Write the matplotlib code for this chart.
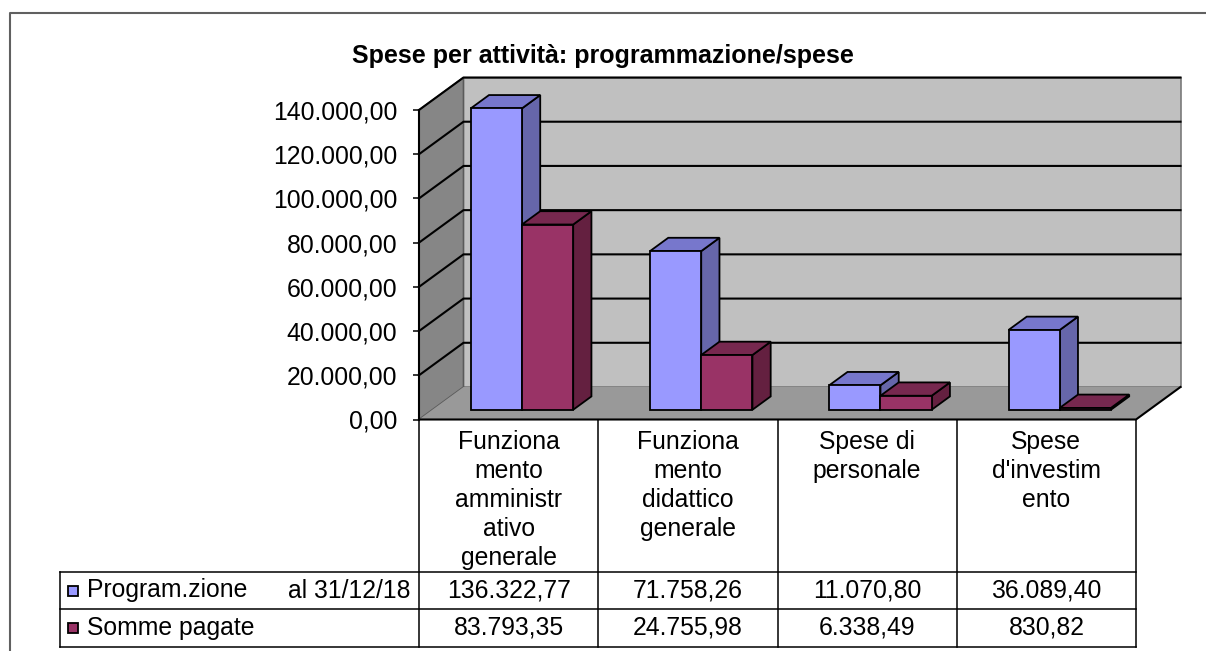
import matplotlib.pyplot as plt
from matplotlib.patches import Polygon, Rectangle
import numpy as np

plt.rcParams['font.family'] = ['Liberation Sans', 'DejaVu Sans']

title = "Spese per attività: programmazione/spese"
categories = [
    ["Funziona", "mento", "amministr", "ativo", "generale"],
    ["Funziona", "mento", "didattico", "generale"],
    ["Spese di", "personale"],
    ["Spese", "d'investim", "ento"],
]
series_names = ["Program.zione", "Somme pagate"]
series_extra = ["al 31/12/18", ""]
programmazione = [136322.77, 71758.26, 11070.80, 36089.40]
pagate = [83793.35, 24755.98, 6338.49, 830.82]
y_ticks = [0, 20000, 40000, 60000, 80000, 100000, 120000, 140000]

front_cols = ["#9999FF", "#993366"]
top_cols = ["#7777CC", "#77284F"]
side_cols = ["#6666AA", "#642040"]


def it_fmt(v):
    s = f"{v:,.2f}"
    return s.replace(",", "X").replace(".", ",").replace("X", ".")


W, H = 1206, 651
fig = plt.figure(figsize=(W / 100, H / 100), dpi=100)

# overlay in pixel coordinates for frame and data table
ov = fig.add_axes([0, 0, 1, 1], zorder=0)
ov.set_xlim(0, W)
ov.set_ylim(H, 0)
ov.axis("off")

# plot area (front plane)
px0, px1, py0, py1 = 419, 1136, 419.5, 110
ax = fig.add_axes([px0 / W, 1 - py0 / H, (px1 - px0) / W, (py0 - py1) / H], zorder=1)
ax.patch.set_visible(False)
n = len(categories)
ymax = y_ticks[-1]
ax.set_xlim(0, n)
ax.set_ylim(0, ymax)

# depth vector of the 3d box, expressed in data units
DDX = 44.5 / ((px1 - px0) / n)
DDY = 32.5 * ymax / (py0 - py1)


def P(x, y, f):
    return (x + f * DDX, y + f * DDY)


def poly(pts, fc, ec, lw=1.0, z=1):
    ax.add_patch(Polygon(pts, closed=True, facecolor=fc, edgecolor=ec,
                         linewidth=lw, clip_on=False, zorder=z))


# walls and floor
poly([P(0, 0, 1), P(n, 0, 1), P(n, ymax, 1), P(0, ymax, 1)], "#C0C0C0", "#7a7a7a", 1.2)
poly([P(0, 0, 0), P(0, ymax, 0), P(0, ymax, 1), P(0, 0, 1)], "#868686", "#5a5a5a", 1.2)
poly([P(0, 0, 0), P(n, 0, 0), P(n, 0, 1), P(0, 0, 1)], "#999999", "none", 0)

# gridlines on side and back wall
for v in y_ticks[1:]:
    pts = np.array([P(0, v, 0), P(0, v, 1), P(n, v, 1)])
    ax.plot(pts[:, 0], pts[:, 1], color="black", lw=1.5, clip_on=False, zorder=2)

# floor front and right edge
pts = np.array([P(0, 0, 0), P(n, 0, 0), P(n, 0, 1)])
ax.plot(pts[:, 0], pts[:, 1], color="black", lw=1.5, clip_on=False, zorder=2)

# 3d bars
bw = 1 / 3.5
f0, f1 = 0.3, 0.71
for i in range(n):
    for s, vals in enumerate([programmazione, pagate]):
        h = vals[i]
        xl = i + 0.5 - bw + s * bw
        xr = xl + bw
        poly([P(xr, 0, f0), P(xr, h, f0), P(xr, h, f1), P(xr, 0, f1)], side_cols[s], "black", 1.3, 3)
        poly([P(xl, h, f0), P(xr, h, f0), P(xr, h, f1), P(xl, h, f1)], top_cols[s], "black", 1.3, 3)
        poly([P(xl, 0, f0), P(xr, 0, f0), P(xr, h, f0), P(xl, h, f0)], front_cols[s], "black", 1.3, 3)

# y axis
ax.set_yticks(y_ticks)
ax.set_yticklabels([it_fmt(v) for v in y_ticks])
ax.set_xticks([])
ax.tick_params(axis="y", length=4.3, width=1.1, pad=11.5, labelsize=17.8, direction="out")
for side in ["top", "right", "bottom"]:
    ax.spines[side].set_visible(False)
ax.spines["left"].set_linewidth(1.5)
ax.spines["left"].set_zorder(4)

# title
fig.text(603 / W, 1 - 56 / H, title, ha="center", va="center",
         fontsize=18, fontweight="bold")

# outer frame
ov.plot([10, 10, W], [H, 13, 13], color="#606060", lw=1.5)

# data table
col_w = (px1 - px0) / n
row_top, row_mid, row_bot = 572, 609, 647
tab_left = 60
lc = "black"
for i in range(n + 1):
    xv = px0 + i * col_w
    ov.plot([xv, xv], [py0, row_bot], color=lc, lw=1.1)
ov.plot([tab_left, tab_left], [row_top, row_bot], color=lc, lw=1.1)
for yv in [row_top, row_mid, row_bot]:
    ov.plot([tab_left, px1], [yv, yv], color=lc, lw=1.1)

for i, lines in enumerate(categories):
    cx = px0 + (i + 0.5) * col_w
    for k, t in enumerate(lines):
        ov.text(cx, 442 + 29 * k, t, ha="center", va="center", fontsize=17.8)

row_ys = [(row_top + row_mid) / 2, (row_mid + row_bot) / 2]
for s, vals in enumerate([programmazione, pagate]):
    ry = row_ys[s]
    ov.add_patch(Rectangle((68, ry - 5), 10, 10, facecolor=front_cols[s],
                           edgecolor="black", lw=1.3))
    ov.text(87, ry, series_names[s], ha="left", va="center", fontsize=17.8)
    if series_extra[s]:
        ov.text(411, ry, series_extra[s], ha="right", va="center", fontsize=17.8)
    for i, v in enumerate(vals):
        cx = px0 + (i + 0.5) * col_w
        ov.text(cx, ry, it_fmt(v), ha="center", va="center", fontsize=17.8)

fig.savefig("out.png", dpi=100)
